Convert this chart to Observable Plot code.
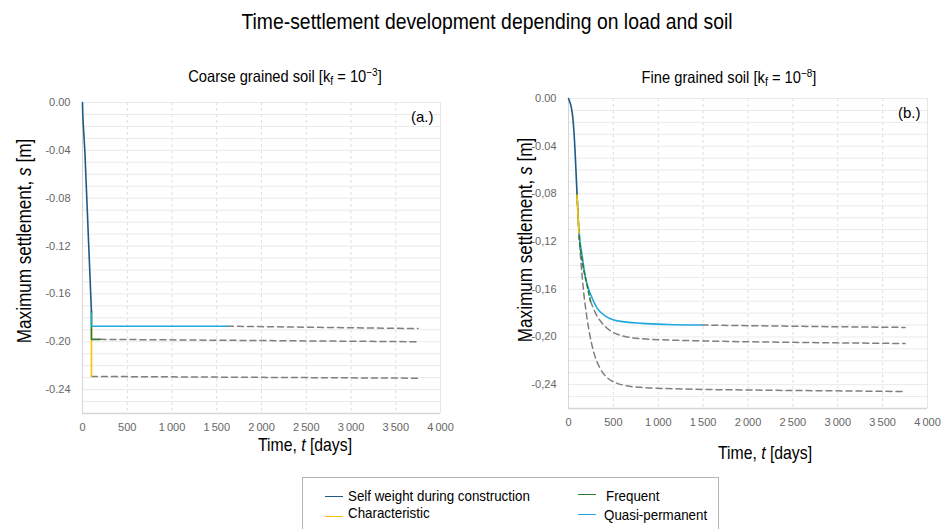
<!DOCTYPE html>
<html><head><meta charset="utf-8">
<script src="https://cdn.jsdelivr.net/npm/d3@7"></script>
<script src="https://cdn.jsdelivr.net/npm/@observablehq/plot@0.6"></script>
<style>
body{margin:0;background:#fff;}
#wrap{position:relative;width:947px;height:529px;overflow:hidden;font-family:"Liberation Sans Narrow","Arial Narrow","Liberation Sans",Arial,sans-serif;color:#000;background:#fff;}
.t{position:absolute;white-space:nowrap;line-height:1;}
sub{font-size:0.72em;vertical-align:-0.28em;line-height:0;}
sup{font-size:0.68em;vertical-align:0.55em;line-height:0;}
.plot{position:absolute;}
#legend{position:absolute;left:302px;top:477px;width:417px;height:70px;border:1.5px solid #b3b3b3;box-sizing:border-box;background:#fff;}
.sw{position:absolute;height:0;border-top:1.6px solid;width:18px;}
.lt{position:absolute;white-space:nowrap;font-size:15px;line-height:1;transform:translateY(-50%) scaleX(0.89);transform-origin:left center;}
</style></head><body><div id="wrap"></div>
<script>
// ---- tick values ----
const xTicks = [0, 500, 1000, 1500, 2000, 2500, 3000, 3500, 4000];
const yTicks = [0, -0.04, -0.08, -0.12, -0.16, -0.20, -0.24];
const yGrid = d3.range(0, 27).map(i => -i / 100);

// ---- series names / colours ----
const seriesNames = ["Self weight during construction", "Characteristic", "Frequent", "Quasi-permanent"];
const seriesColors = ["#1d5b86", "#ffc000", "#2e7a34", "#1fa8e0"];
const forecastColor = "#7f7f7f";

// ---- Panel (a): coarse grained soil, [time (days), settlement (m)] ----
const selfWeightA = [[0, 0], [3, -0.01], [10, -0.02], [26, -0.04], [100, -0.175]];
const characteristicA = [[100, -0.175], [100, -0.229]];
const frequentA = [[100, -0.175], [100, -0.198], [195, -0.198]];
const quasiPermanentA = [[100, -0.175], [100, -0.187], [1620, -0.187]];
const characteristicForecastA = [[100, -0.229], [3750, -0.2305]];
const frequentForecastA = [[195, -0.198], [3750, -0.2]];
const quasiPermanentForecastA = [[1620, -0.187], [3750, -0.189]];

// ---- Panel (b): fine grained soil ----
const selfWeightB = [[0, 0], [15, -0.003], [30, -0.007], [45, -0.014], [60, -0.027], [75, -0.047], [95, -0.08]];
const characteristicB = [[95, -0.08], [105, -0.096], [116, -0.113]];
const frequentB = [[95, -0.08], [116, -0.112], [153, -0.136], [208, -0.157], [245, -0.17]];
const quasiPermanentB = [[95, -0.08], [116, -0.11], [153, -0.1325], [189, -0.15], [245, -0.164], [320, -0.176], [412, -0.1825], [561, -0.1867], [821, -0.1886], [1100, -0.1895], [1486, -0.19]];
const characteristicForecastB = [[116, -0.113], [140, -0.138], [170, -0.163], [206, -0.184], [250, -0.203], [290, -0.215], [350, -0.226], [430, -0.234], [530, -0.2385], [650, -0.241], [850, -0.2425], [1200, -0.2435], [2000, -0.2445], [3000, -0.2452], [3750, -0.2458]];
const frequentForecastB = [[245, -0.17], [301, -0.18], [412, -0.1915], [555, -0.198], [810, -0.2015], [1500, -0.2033], [2500, -0.2045], [3750, -0.2055]];
const quasiPermanentForecastB = [[1486, -0.19], [2500, -0.191], [3750, -0.192]];

const wrap = document.getElementById("wrap");
function text(html, cx, cy, size, squeeze, rotate = false) {
  const d = document.createElement("div");
  d.className = "t";
  d.style.left = cx + "px"; d.style.top = cy + "px"; d.style.fontSize = size + "px";
  d.style.transform = "translate(-50%,-50%)" + (rotate ? " rotate(-90deg)" : "") + ` scaleX(${squeeze})`;
  d.innerHTML = html;
  wrap.appendChild(d);
}

const fmtX = d => d >= 1000 ? Math.floor(d / 1000) + "\u2009" + String(d % 1000).padStart(3, "0") : String(d);
const fmtYa = d => d.toFixed(2);
const fmtYb = d => d > -0.05 ? d.toFixed(2) : d.toFixed(2).replace(".", ",");

const X = d => d[0], Y = d => d[1];
function solid(data, color, curve) { return Plot.line(data, {x: X, y: Y, stroke: color, strokeWidth: 1.6, curve}); }
function dashed(data, curve) { return Plot.line(data, {x: X, y: Y, stroke: forecastColor, strokeWidth: 1.5, strokeDasharray: "6,4", curve}); }

function panel({left, top, width, height, ml, mr, mt, mb, fmtY, tag, lines}) {
  const p = Plot.plot({
    width, height, marginLeft: ml, marginRight: mr, marginTop: mt, marginBottom: mb,
    style: {fontFamily: "'Liberation Sans', Arial, sans-serif", fontSize: "11px", color: "#666", background: "transparent"},
    x: {domain: [0, 4000], ticks: xTicks, tickFormat: fmtX, tickSize: 0, tickPadding: 10, label: null},
    y: {domain: [-0.26, 0], ticks: yTicks, tickFormat: fmtY, tickSize: 0, tickPadding: 12, label: null},
    marks: [
      Plot.ruleY(yGrid, {stroke: "#ebebeb", strokeWidth: 1}),
      Plot.ruleX(xTicks.slice(1, -1), {stroke: "#dedede", strokeDasharray: "3,3"}),
      Plot.ruleX([0], {stroke: "#d6d6d6"}),
      Plot.ruleX([4000], {stroke: "#e6e6e6"}),
      Plot.ruleY([-0.26], {stroke: "#d6d6d6", strokeWidth: 1.5}),
      ...lines,
      Plot.text([tag], {text: d => d, frameAnchor: "top-right", dx: -7, dy: 15, textAnchor: "end", lineAnchor: "middle", fontSize: 15, fill: "#000", fontFamily: "'Liberation Sans', Arial"})
    ]
  });
  p.classList.add("plot");
  p.style.left = left + "px"; p.style.top = top + "px";
  wrap.appendChild(p);
}

panel({left: 0, top: 90, width: 470, height: 350, ml: 82, mr: 30, mt: 12, mb: 27, fmtY: fmtYa, tag: "(a.)",
  lines: [
    dashed(characteristicForecastA), dashed(frequentForecastA), dashed(quasiPermanentForecastA),
    solid(characteristicA, seriesColors[1]), solid(frequentA, seriesColors[2]), solid(quasiPermanentA, seriesColors[3]),
    solid(selfWeightA, seriesColors[0])
  ]});

panel({left: 487, top: 86, width: 460, height: 350, ml: 81, mr: 20, mt: 12, mb: 28, fmtY: fmtYb, tag: "(b.)",
  lines: [
    dashed(characteristicForecastB, "monotone-x"), dashed(frequentForecastB, "monotone-x"), dashed(quasiPermanentForecastB, "monotone-x"),
    solid(quasiPermanentB, seriesColors[3], "monotone-x"),
    Plot.line(frequentB, {x: X, y: Y, stroke: seriesColors[2], strokeWidth: 1.6, strokeDasharray: "4,3", curve: "monotone-x"}),
    solid(characteristicB, seriesColors[1], "monotone-x"),
    solid(selfWeightB, seriesColors[0], "monotone-x")
  ]});

// titles & axis labels
text("Time-settlement development depending on load and soil", 487, 22, 22, 0.88);
text("Coarse grained soil [k<sub>f</sub> = 10<sup>\u22123</sup>]", 285, 76, 16.5, 0.89);
text("Fine grained soil [k<sub>f</sub> = 10<sup>\u22128</sup>]", 729, 77, 16.5, 0.89);
text("Maximum settlement, <i>s</i> [m]", 24, 241, 20, 0.855, true);
text("Maximum settlement, <i>s</i> [m]", 525, 240, 20, 0.855, true);
text("Time, <i>t</i> [days]", 305, 444, 19, 0.83);
text("Time, <i>t</i> [days]", 765, 452, 19, 0.83);

// legend
const lg = document.createElement("div"); lg.id = "legend"; wrap.appendChild(lg);
const legendPos = [
  {sx: 22, sy: 18, tx: 45, ty: 17},
  {sx: 22, sy: 38, tx: 45, ty: 34},
  {sx: 275, sy: 16, tx: 303, ty: 17},
  {sx: 275, sy: 36, tx: 301, ty: 36}
];
seriesNames.forEach((n, i) => {
  const s = document.createElement("div"); s.className = "sw";
  s.style.left = legendPos[i].sx + "px"; s.style.top = legendPos[i].sy + "px"; s.style.borderTopColor = seriesColors[i];
  lg.appendChild(s);
  const t = document.createElement("div"); t.className = "lt";
  t.style.left = legendPos[i].tx + "px"; t.style.top = legendPos[i].ty + "px"; t.textContent = n;
  lg.appendChild(t);
});
</script></body></html>
